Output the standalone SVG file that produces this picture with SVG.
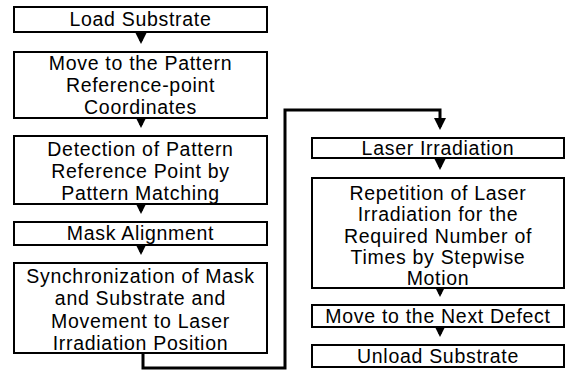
<svg xmlns="http://www.w3.org/2000/svg" width="567" height="372" viewBox="0 0 567 372">
<defs>
<marker id="ah" markerWidth="4" markerHeight="4" refX="3" refY="2" orient="auto" markerUnits="strokeWidth" viewBox="0 0 4 4">
<path d="M0,0 L4,2 L0,4 Z" fill="#000"/>
</marker>
<style>
.box{fill:#fff;stroke:#000;stroke-width:2}
.t{font-family:"Liberation Sans",Arial,sans-serif;font-size:19.5px;letter-spacing:0.7px;text-anchor:middle;fill:#000}
.c{fill:none;stroke:#000;stroke-width:3}
</style>
</defs>
<rect width="567" height="372" fill="#fff"/>
<g id="connectors">
<line class="c" x1="141" y1="32" x2="141" y2="41" marker-end="url(#ah)"/>
<line class="c" x1="141" y1="118" x2="141" y2="125" marker-end="url(#ah)"/>
<line class="c" x1="141" y1="204" x2="141" y2="211" marker-end="url(#ah)"/>
<line class="c" x1="141" y1="245" x2="141" y2="252" marker-end="url(#ah)"/>
<polyline class="c" points="143,353 143,368 285,368 285,110 440,110 440,127" marker-end="url(#ah)"/>
<line class="c" x1="440" y1="158" x2="440" y2="167" marker-end="url(#ah)"/>
<line class="c" x1="440" y1="288" x2="440" y2="294" marker-end="url(#ah)"/>
<line class="c" x1="440" y1="327" x2="440" y2="334" marker-end="url(#ah)"/>
</g>
<g id="n1"><rect class="box" x="14" y="7" width="253" height="25"/><text class="t" x="140.5" y="26">Load Substrate</text></g>
<g id="n2"><rect class="box" x="14" y="52" width="253" height="66"/><text class="t" x="140.5" y="70">Move to the Pattern</text><text class="t" x="140.5" y="92">Reference-point</text><text class="t" x="140.5" y="114">Coordinates</text></g>
<g id="n3"><rect class="box" x="14" y="136" width="253" height="68"/><text class="t" x="140.5" y="156">Detection of Pattern</text><text class="t" x="140.5" y="178">Reference Point by</text><text class="t" x="140.5" y="200">Pattern Matching</text></g>
<g id="n4"><rect class="box" x="14" y="222" width="253" height="23"/><text class="t" x="140.5" y="240">Mask Alignment</text></g>
<g id="n5"><rect class="box" x="14" y="263" width="253" height="90"/><text class="t" x="140.5" y="283">Synchronization of Mask</text><text class="t" x="140.5" y="305">and Substrate and</text><text class="t" x="140.5" y="328">Movement to Laser</text><text class="t" x="140.5" y="350">Irradiation Position</text></g>
<g id="n6"><rect class="box" x="312" y="138" width="252" height="20"/><text class="t" x="438" y="155">Laser Irradiation</text></g>
<g id="n7"><rect class="box" x="312" y="178" width="252" height="110"/><text class="t" x="438" y="200">Repetition of Laser</text><text class="t" x="438" y="221">Irradiation for the</text><text class="t" x="438" y="243">Required Number of</text><text class="t" x="438" y="264">Times by Stepwise</text><text class="t" x="438" y="285">Motion</text></g>
<g id="n8"><rect class="box" x="312" y="305" width="252" height="22"/><text class="t" x="438" y="323">Move to the Next Defect</text></g>
<g id="n9"><rect class="box" x="312" y="345" width="252" height="22"/><text class="t" x="438" y="363">Unload Substrate</text></g>
</svg>
